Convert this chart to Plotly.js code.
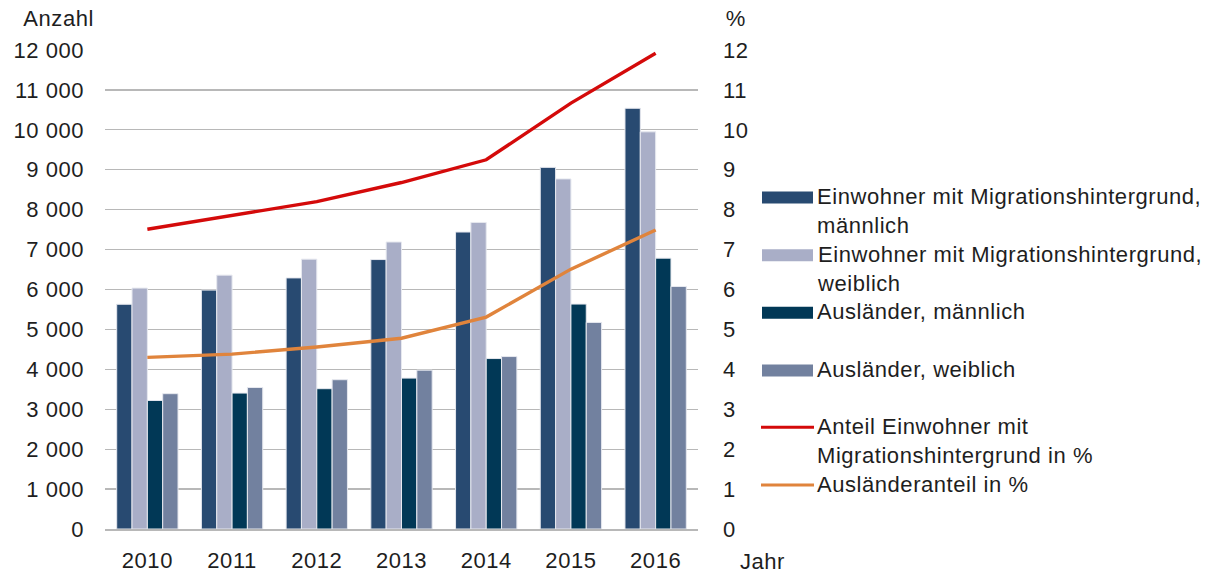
<!DOCTYPE html>
<html><head><meta charset="utf-8">
<script src="https://cdn.plot.ly/plotly-3.0.1.min.js"></script>
<style>html,body{margin:0;padding:0;background:#fff}#chart{width:1212px;height:576px}
#chart svg text{letter-spacing:0.55px}</style>
</head><body><div id="chart"></div>
<script>
// ---- data ----
const years = ["2010","2011","2012","2013","2014","2015","2016"];
const migMale   = [5630, 5985, 6290, 6750, 7440, 9060, 10540];
const migFemale = [6035, 6360, 6760, 7190, 7680, 8770, 9950];
const ausMale   = [3220, 3405, 3515, 3780, 4270, 5635, 6785];
const ausFemale = [3390, 3545, 3740, 3980, 4320, 5175, 6075];
const shareMig  = [7.51, 7.85, 8.20, 8.68, 9.25, 10.67, 11.92];
const shareAus  = [4.30, 4.38, 4.56, 4.78, 5.31, 6.51, 7.49];
const barNames = ["Einwohner mit Migrationshintergrund,<br>männlich",
                  "Einwohner mit Migrationshintergrund,<br>weiblich",
                  "Ausländer, männlich",
                  "Ausländer, weiblich"];
const lineNames = ["Anteil Einwohner mit<br>Migrationshintergrund in %",
                   "Ausländeranteil in %"];
const yTitle = "Anzahl", y2Title = "%", xTitle = "Jahr";

// ---- styles ----
const barColors = ["#284a71", "#a9aec7", "#013856", "#72819f"];
const lineColors = ["#d40a0a", "#e0843c"];
const FONT = "Liberation Sans, Arial, sans-serif";
const TXT = "#1e1e1e";
const FS = 22;

const barSeries = [migMale, migFemale, ausMale, ausFemale];
const lineSeries = [shareMig, shareAus];

const traces = [];
barSeries.forEach((v, i) => traces.push({
  type: "bar", x: years, y: v, name: barNames[i], showlegend: false,
  marker: {color: barColors[i], line: {color: "#e6e8ef", width: 1}},
  hoverinfo: "x+y"
}));
lineSeries.forEach((v, i) => traces.push({
  type: "scatter", mode: "lines", x: years, y: v, yaxis: "y2", name: lineNames[i],
  showlegend: false, line: {color: lineColors[i], width: 3.4}
}));

// plot area in px
const L = 105, R = 698, T = 50, B = 529;
const W = 1212, H = 576;
const px2x = x => (x - L) / (R - L);
const px2y = y => (B - y) / (B - T);

// manual legend
const shapes = [], annotations = [];
const legendNames = barNames.concat(lineNames);
const legendColors = barColors.concat(lineColors);
const centers = [197.5, 255.3, 312.7, 370.5, 427.3, 485];
legendNames.forEach((n, i) => {
  const cy = centers[i];
  if (i < 4) {
    shapes.push({type: "rect", xref: "paper", yref: "paper",
      x0: px2x(762), x1: px2x(813), y0: px2y(cy - 6), y1: px2y(cy + 6),
      fillcolor: legendColors[i], line: {width: 0}});
  } else {
    shapes.push({type: "line", xref: "paper", yref: "paper",
      x0: px2x(761), x1: px2x(814), y0: px2y(cy), y1: px2y(cy),
      line: {color: legendColors[i], width: 3}});
  }
  annotations.push({xref: "paper", yref: "paper", x: px2x(815), y: px2y(cy - 15.5),
    xanchor: "left", yanchor: "top", align: "left", showarrow: false, text: n,
    font: {family: FONT, size: FS, color: TXT}});
});
annotations.push({xref: "paper", yref: "paper", x: px2x(58), y: px2y(18),
  xanchor: "center", yanchor: "middle", showarrow: false, text: yTitle,
  font: {family: FONT, size: FS, color: TXT}});
annotations.push({xref: "paper", yref: "paper", x: px2x(724), y: px2y(18),
  xanchor: "left", yanchor: "middle", showarrow: false, text: y2Title,
  font: {family: FONT, size: FS, color: TXT}});
annotations.push({xref: "paper", yref: "paper", x: px2x(739), y: px2y(561),
  xanchor: "left", yanchor: "middle", showarrow: false, text: xTitle,
  font: {family: FONT, size: FS, color: TXT}});

const layout = {
  width: W, height: H,
  margin: {l: L, r: W - R, t: T, b: H - B, pad: 0},
  paper_bgcolor: "#fff", plot_bgcolor: "#fff",
  font: {family: FONT, size: FS, color: TXT},
  separators: ", ",
  barmode: "group", bargap: 0.276, bargroupgap: 0,
  showlegend: false,
  xaxis: {type: "category", showgrid: false, zeroline: false,
    showline: true, linecolor: "#b8b8b8", linewidth: 2,
    ticks: "", ticklabelstandoff: 11, tickfont: {family: FONT, size: FS, color: TXT}},
  yaxis: {range: [0, 12000], dtick: 1000, tick0: 0, tickformat: ",d",
    showgrid: true, gridcolor: "#b8b8b8", gridwidth: 1.3, zeroline: false,
    showline: false, ticks: "", ticklabelstandoff: 20,
    tickfont: {family: FONT, size: FS, color: TXT}},
  yaxis2: {range: [0, 12], dtick: 1, tick0: 0, overlaying: "y", side: "right",
    showgrid: false, zeroline: false, showline: false, ticks: "",
    ticklabelstandoff: 24, tickfont: {family: FONT, size: FS, color: TXT}},
  shapes: shapes, annotations: annotations
};
Plotly.newPlot("chart", traces, layout, {displayModeBar: false, staticPlot: true});
</script></body></html>
